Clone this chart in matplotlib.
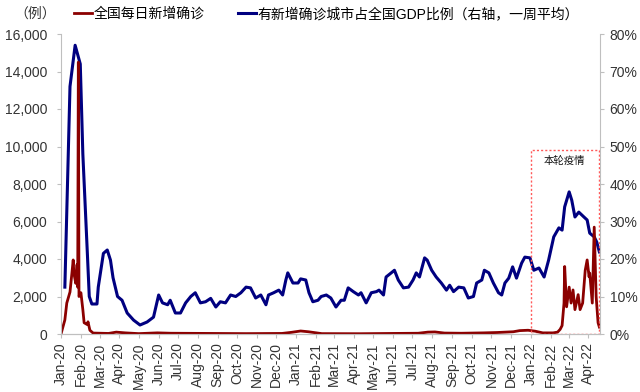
import pandas as pd
import matplotlib.pyplot as plt
import matplotlib.dates as mdates
from matplotlib.patches import Rectangle
from matplotlib.ticker import FuncFormatter

plt.rcParams['font.family'] = ['Liberation Sans', 'Noto Sans CJK SC', 'DejaVu Sans']

# ---------------- data ----------------
# daily new confirmed cases (left axis)
red_dates = ['2020-01-01', '2020-01-07', '2020-01-10', '2020-01-15', '2020-01-18', '2020-01-20',
             '2020-01-21', '2020-01-24', '2020-01-26', '2020-01-27', '2020-01-28', '2020-01-29',
             '2020-02-01', '2020-02-04', '2020-02-06', '2020-02-11', '2020-02-12', '2020-02-15',
             '2020-02-20', '2020-03-15', '2020-03-27', '2020-04-10', '2020-05-01', '2020-05-30',
             '2020-06-20', '2020-08-20', '2020-10-15', '2020-12-10', '2020-12-25', '2021-01-08',
             '2021-01-20', '2021-02-10', '2021-04-10', '2021-06-01', '2021-07-10', '2021-07-25',
             '2021-08-05', '2021-08-20', '2021-09-15', '2021-10-20', '2021-11-10', '2021-12-05',
             '2021-12-15', '2021-12-28', '2022-01-08', '2022-01-20', '2022-02-05', '2022-02-12',
             '2022-02-16', '2022-02-19', '2022-02-22', '2022-02-23', '2022-02-26', '2022-03-02',
             '2022-03-05', '2022-03-08', '2022-03-11', '2022-03-16', '2022-03-19', '2022-03-23',
             '2022-03-27', '2022-03-30', '2022-04-02', '2022-04-03', '2022-04-07', '2022-04-10',
             '2022-04-13', '2022-04-16', '2022-04-18']
red_cases = [0, 750, 1650, 2240, 3250, 3950,
             3250, 2700, 3700, 2500, 14500, 2000,
             2200, 1300, 600, 500, 650, 200,
             50, 30, 100, 60, 20, 60,
             40, 30, 20, 30, 90, 160,
             120, 20, 15, 30, 40, 100,
             110, 50, 40, 60, 80, 120,
             180, 200, 150, 60, 60, 100,
             250, 450, 1650, 3600, 1450, 2500,
             1650, 2350, 1300, 2100, 1300, 1650,
             3400, 3950, 3050, 3250, 1650, 5700,
             2000, 600, 370]

# share of national GDP in cities with new cases, weekly average (right axis, %)
blue_dates = ['2020-01-07', '2020-01-15', '2020-01-23', '2020-01-31', '2020-02-04', '2020-02-11',
              '2020-02-14', '2020-02-18', '2020-02-26', '2020-02-28', '2020-03-07', '2020-03-13',
              '2020-03-18', '2020-03-22', '2020-03-29', '2020-04-05', '2020-04-13', '2020-04-23',
              '2020-05-03', '2020-05-14', '2020-05-24', '2020-06-01', '2020-06-07', '2020-06-15',
              '2020-06-19', '2020-06-27', '2020-07-05', '2020-07-13', '2020-07-21', '2020-07-28',
              '2020-08-05', '2020-08-13', '2020-08-21', '2020-08-29', '2020-09-05', '2020-09-13',
              '2020-09-21', '2020-09-29', '2020-10-07', '2020-10-15', '2020-10-22', '2020-10-30',
              '2020-11-07', '2020-11-15', '2020-11-19', '2020-11-27', '2020-12-05', '2020-12-11',
              '2020-12-16', '2020-12-19', '2020-12-27', '2021-01-04', '2021-01-08', '2021-01-16',
              '2021-01-21', '2021-01-27', '2021-02-04', '2021-02-09', '2021-02-17', '2021-02-24',
              '2021-03-04', '2021-03-12', '2021-03-17', '2021-03-23', '2021-03-31', '2021-04-08',
              '2021-04-12', '2021-04-20', '2021-04-28', '2021-05-06', '2021-05-10', '2021-05-17',
              '2021-05-21', '2021-05-29', '2021-06-03', '2021-06-09', '2021-06-17', '2021-06-25',
              '2021-07-02', '2021-07-07', '2021-07-12', '2021-07-20', '2021-07-24', '2021-07-31',
              '2021-08-07', '2021-08-15', '2021-08-23', '2021-08-28', '2021-09-03', '2021-09-11',
              '2021-09-19', '2021-09-26', '2021-10-04', '2021-10-09', '2021-10-17', '2021-10-21',
              '2021-10-28', '2021-11-04', '2021-11-12', '2021-11-17', '2021-11-22', '2021-11-28',
              '2021-12-04', '2021-12-10', '2021-12-18', '2021-12-23', '2021-12-31', '2022-01-06',
              '2022-01-14', '2022-01-22', '2022-01-29', '2022-02-06', '2022-02-14', '2022-02-19',
              '2022-02-23', '2022-03-02', '2022-03-06', '2022-03-11', '2022-03-17', '2022-03-25',
              '2022-03-30', '2022-04-03', '2022-04-10', '2022-04-14', '2022-04-18']
blue_pct = [12.5, 66, 77, 72, 48, 21.6,
            10, 8, 8, 12.5, 21.5, 22.4,
            19.7, 15, 10, 9, 5.6, 3.7,
            2.4, 3.2, 4.5, 10.4, 8.3, 7.8,
            9, 5.6, 5.6, 8.3, 10, 11,
            8.3, 8.6, 9.5, 7.2, 8.6, 8.3,
            10.4, 10, 11, 12.5, 12.3, 9.6,
            10.4, 7.8, 10.4, 11, 11.7, 10.4,
            14.4, 16.3, 13.6, 13.6, 14.7, 14.4,
            11, 8.6, 9, 10, 10.4, 9.6,
            7.2, 9, 9, 12.3, 11.3, 10.4,
            11, 8.3, 11, 11.3, 11.7, 10.4,
            15.2, 16.3, 17, 14.4, 12.3, 12.5,
            14.4, 16.3, 15.2, 20.3, 19.7, 17,
            15.2, 13.6, 11.7, 13, 11.3, 12.5,
            12.3, 9.6, 10, 13.6, 14.4, 17,
            16.3, 13.6, 11, 10.4, 13.6, 14.9,
            17.9, 14.9, 18.9, 20.5, 20.3, 17,
            17.6, 15.2, 19.7, 25.9, 28.3, 27.7,
            33.9, 37.9, 35.7, 31.2, 32.5, 31.2,
            30.4, 26.9, 25.9, 24.5, 21.9]

legend_red = '全国每日新增确诊'
legend_blue = '有新增确诊城市占全国GDP比例（右轴，一周平均）'

red_x = pd.to_datetime(red_dates)
blue_x = pd.to_datetime(blue_dates)
blue_y = [v / 100 for v in blue_pct]

# ---------------- plot ----------------
fig = plt.figure(figsize=(6.4, 3.92), dpi=100)
ax = fig.add_axes([61 / 640, 1 - 334 / 392, (600 - 61) / 640, 300 / 392])
ax2 = ax.twinx()

l2, = ax2.plot(blue_x, blue_y, color='#000080', lw=2.2, label=legend_blue)
l1, = ax.plot(red_x, red_cases, color='#8B0000', lw=2.0, label=legend_red)
ax.set_zorder(ax2.get_zorder() + 1)
ax.patch.set_visible(False)

ax.set_ylim(0, 16000)
ax.set_yticks(range(0, 16001, 2000))
ax.yaxis.set_major_formatter(FuncFormatter(lambda v, p: f'{int(v):,}'))
ax2.set_ylim(0, 0.8)
ax2.set_yticks([i / 10 for i in range(9)])
ax2.yaxis.set_major_formatter(FuncFormatter(lambda v, p: f'{v * 100:.0f}%'))

ax.set_xlim(pd.Timestamp('2020-01-01'), pd.Timestamp('2022-04-19'))
ax.xaxis.set_major_locator(mdates.MonthLocator())
ax.xaxis.set_major_formatter(mdates.DateFormatter('%b-%y'))
for lab in ax.get_xticklabels():
    lab.set_rotation(90)

for a in (ax, ax2):
    a.spines['top'].set_visible(False)
    for s in ('left', 'right', 'bottom'):
        a.spines[s].set_color('#BFBFBF')
    a.tick_params(colors='#BFBFBF', labelcolor='#333333', labelsize=10, length=3)
ax.spines['right'].set_visible(False)
ax2.spines['left'].set_visible(False)
ax.tick_params(axis='y', pad=7)
ax2.tick_params(axis='y', pad=4)
ax.tick_params(axis='x', length=3, pad=3)

# dashed box around current wave
box = Rectangle((mdates.date2num(pd.Timestamp('2022-01-01')), 0),
                mdates.date2num(pd.Timestamp('2022-04-18')) - mdates.date2num(pd.Timestamp('2022-01-01')),
                9800, fill=False, edgecolor='#FF5A5A', lw=1.0, ls=(0, (1.5, 1.5)), zorder=5)
ax.add_patch(box)
ax.text(pd.Timestamp('2022-02-22'), 9250, '本轮疫情', ha='center', va='center', fontsize=7.5, color='#111111')

fig.text(14 / 640, 1 - 14 / 392, '（例）', fontsize=10, color='#333333', va='center', ha='left')
fig.legend([l1, l2], [legend_red, legend_blue], loc='center left', bbox_to_anchor=(74 / 640, 1 - 14 / 392),
           ncol=2, frameon=False, fontsize=10, handlelength=1.3, handletextpad=0.1, columnspacing=2.4,
           borderaxespad=0, borderpad=0)

fig.savefig('out.png', dpi=100)
